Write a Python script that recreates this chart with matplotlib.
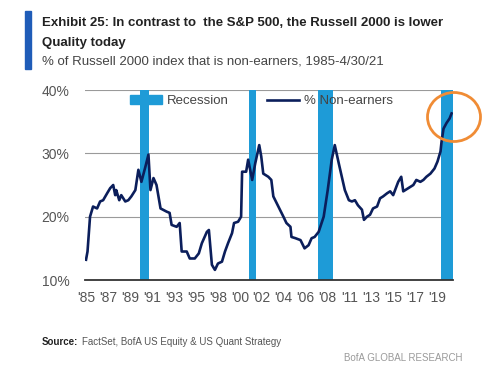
import numpy as np
import matplotlib
matplotlib.use('Agg')
import matplotlib.pyplot as plt
from matplotlib.patches import Ellipse, Rectangle
from matplotlib.lines import Line2D

# Russell 2000 share of non-earners
years = [1985.0, 1985.15, 1985.4, 1985.7, 1986.1, 1986.4, 1986.7, 1987.1, 1987.4, 1987.7,
         1987.9, 1988.0, 1988.3, 1988.5, 1988.9, 1989.2, 1989.5, 1989.9, 1990.2, 1990.5,
         1990.9, 1991.2, 1991.4, 1991.7, 1992.0, 1992.4, 1993.0, 1993.3, 1993.5, 1994.0,
         1994.3, 1994.5, 1995.0, 1995.3, 1995.8, 1996.2, 1996.5, 1997.0, 1997.2, 1997.5,
         1997.8, 1998.1, 1998.5, 1998.8, 1999.1, 1999.5, 1999.7, 2000.1, 2000.4, 2000.5,
         2000.9, 2001.1, 2001.5, 2001.8, 2002.2, 2002.4, 2002.6, 2003.1, 2003.4, 2003.6,
         2004.1, 2004.6, 2004.9, 2005.3, 2005.4, 2005.8, 2006.3, 2006.7, 2007.1, 2007.4,
         2007.7, 2008.1, 2008.6, 2009.0, 2009.4, 2009.7, 2010.1, 2010.4, 2010.7, 2011.1,
         2011.4, 2011.7, 2012.0, 2012.4, 2012.6, 2012.9, 2013.2, 2013.5, 2013.9, 2014.2,
         2014.5, 2014.9, 2015.2, 2015.5, 2016.0, 2016.3, 2016.5, 2017.0, 2017.5, 2017.8,
         2018.2, 2018.5, 2018.8, 2019.2, 2019.6, 2019.9, 2020.2, 2020.3, 2020.5, 2020.8,
         2021.1, 2021.3]
non_earners = [13.2, 14.5, 20.0, 21.6, 21.3, 22.4, 22.6, 23.7, 24.5, 25.0,
               23.4, 24.2, 22.6, 23.4, 22.4, 22.6, 23.2, 24.2, 27.4, 25.5,
               27.9, 29.8, 24.2, 26.1, 25.0, 21.3, 20.8, 20.6, 18.7, 18.4,
               19.0, 14.5, 14.5, 13.4, 13.4, 14.2, 15.8, 17.6, 17.9, 12.4,
               11.6, 12.6, 12.9, 14.5, 15.8, 17.4, 19.0, 19.2, 20.0, 27.1,
               27.1, 29.0, 25.8, 28.4, 31.3, 29.5, 26.8, 26.3, 25.8, 23.2,
               21.6, 20.0, 19.0, 18.4, 16.8, 16.6, 16.3, 15.0, 15.5, 16.6,
               16.8, 17.6, 20.0, 24.2, 29.0, 31.3, 28.4, 26.3, 24.2, 22.6,
               22.4, 22.6, 21.8, 21.1, 19.5, 20.0, 20.3, 21.3, 21.6, 22.9,
               23.2, 23.7, 24.0, 23.4, 25.5, 26.3, 24.0, 24.5, 25.0, 25.8,
               25.5, 25.8, 26.3, 26.8, 27.6, 28.7, 30.3, 31.8, 33.9, 34.8,
               35.5, 36.3]

# recession periods (start, end)
rec_start = [1990.4, 2001.15, 2008.0, 2020.2]
rec_end = [1991.25, 2001.9, 2009.55, 2021.5]

tick_labels = ["'85", "'87", "'89", "'91", "'93", "'95", "'98", "'00", "'02",
               "'04", "'06", "'08", "'11", "'13", "'15", "'17", "'19"]
y_ticks = [10, 20, 30, 40]

NARROW = ['Liberation Sans Narrow', 'Liberation Sans', 'DejaVu Sans']
plt.rcParams['font.family'] = NARROW

fig = plt.figure(figsize=(5, 3.75), dpi=100)
ax = fig.add_axes([0.17, 0.2533, 0.736, 0.5067])

for s, e in zip(rec_start, rec_end):
    ax.axvspan(s, e, color='#1e9bd7', zorder=1, lw=0)
ax.plot(years, non_earners, color='#0b1e5b', lw=1.9, zorder=3)

ax.set_xlim(1984.9, 2021.44)
ax.set_ylim(10, 40)
ax.set_yticks(y_ticks)
ax.set_yticklabels([f'{v}%' for v in y_ticks])
ax.set_xticks(np.linspace(1985.05, 2019.85, len(tick_labels)))
ax.set_xticklabels(tick_labels)
ax.tick_params(axis='both', length=0, colors='#555555', labelsize=10)
ax.tick_params(axis='y', pad=11)
ax.tick_params(axis='x', pad=8)
ax.grid(axis='y', color='#9a9a9a', lw=0.8, zorder=0)
ax.set_axisbelow(True)
for sp in ['top', 'right', 'left']:
    ax.spines[sp].set_visible(False)
ax.spines['bottom'].set_color('#333333')
ax.spines['bottom'].set_linewidth(1.3)

handles = [Rectangle((0, 0), 1, 1, color='#1e9bd7'),
           Line2D([], [], color='#0b1e5b', lw=1.9)]
leg = ax.legend(handles, ['Recession', '% Non-earners'], loc='upper center',
                bbox_to_anchor=(0.48, 1.035), ncol=2, frameon=False,
                handlelength=2.4, columnspacing=2.9, handletextpad=0.4,
                fontsize=9.5)
for t in leg.get_texts():
    t.set_color('#444444')

# highlight circle around the latest reading
fig.patches.append(Ellipse((0.908, 0.688), 53 / 500, 49 / 375, transform=fig.transFigure,
                           fill=False, ec='#f08c35', lw=2.0, zorder=5))

# header
fig.patches.append(Rectangle((0.05, 1 - 69 / 375), 0.012, 58 / 375, transform=fig.transFigure,
                             color='#1f5cb8'))
fig.text(0.084, 1 - 23 / 375, 'Exhibit 25: In contrast to  the S&P 500, the Russell 2000 is lower',
         fontsize=9.5, fontweight='bold', color='#222222', va='center')
fig.text(0.084, 1 - 43 / 375, 'Quality today', fontsize=9.5, fontweight='bold',
         color='#222222', va='center')
fig.text(0.084, 1 - 62 / 375, '% of Russell 2000 index that is non-earners, 1985-4/30/21',
         fontsize=9.5, color='#444444', va='center')

# footer
fig.text(0.084, 1 - 342 / 375, 'Source:', fontsize=7, fontweight='bold',
         color='#222222', va='center')
fig.text(0.164, 1 - 342 / 375, 'FactSet, BofA US Equity & US Quant Strategy', fontsize=7,
         color='#555555', va='center')
fig.text(0.926, 1 - 358 / 375, 'BofA GLOBAL RESEARCH', fontsize=7, color='#9a9a9a',
         va='center', ha='right')

fig.savefig('out.png', dpi=100, facecolor='white')
